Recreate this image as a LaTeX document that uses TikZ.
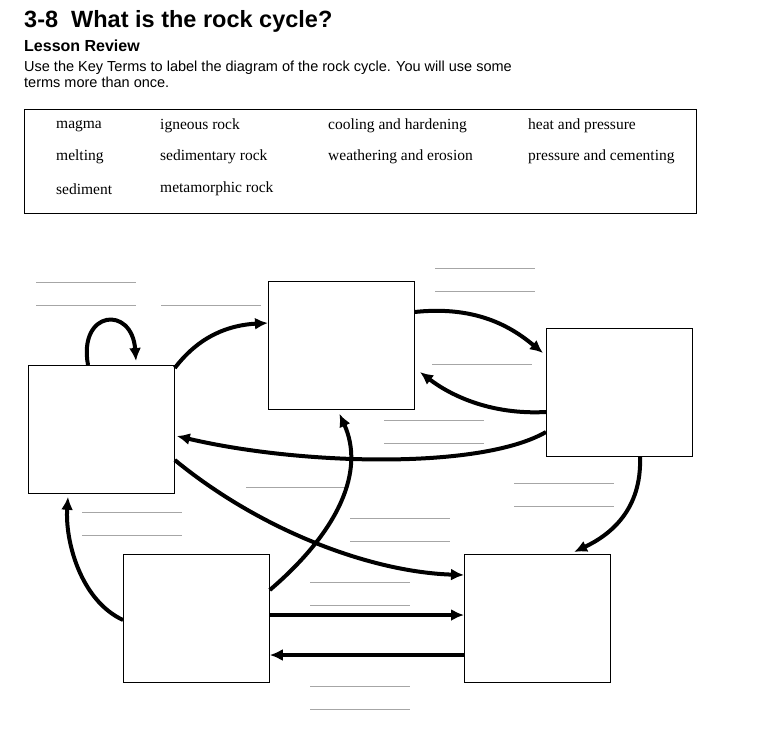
\documentclass[tikz,border=0pt]{standalone}
\usepackage{fontspec}
\setmainfont{Liberation Serif}
\setsansfont{Liberation Sans}
\usetikzlibrary{arrows.meta, positioning}

\begin{document}
\begin{tikzpicture}[x=1pt, y=-1pt,
    rockbox/.style={draw, line width=0.8pt, minimum width=146pt, minimum height=128pt, inner sep=0pt, anchor=north west},
    term/.style={anchor=west, font=\fontsize{15.5}{17}\selectfont, inner sep=0pt},
    blank/.style={draw=gray!70, line width=0.6pt},
    cycle/.style={line width=4pt, -{Latex[length=13pt,width=12pt]}}]

\useasboundingbox (0,0) rectangle (757,732);

% ------------------------
% Heading
% ------------------------
\node[anchor=west, inner sep=0pt, font=\sffamily\bfseries\fontsize{23.5}{27}\selectfont] (title) at (24,21) {3-8\ \ What is the rock cycle?};
\node[anchor=west, inner sep=0pt, font=\sffamily\bfseries\fontsize{16}{18}\selectfont] (review) at (24,46) {Lesson Review};
\node[anchor=north west, inner sep=0pt, align=left, font=\sffamily\fontsize{14.5}{16}\selectfont] (task) at (24,61)
    {Use the Key Terms to label the diagram of the rock cycle. You will use some\\terms more than once.};

% ------------------------
% Key terms
% ------------------------
\draw[line width=0.8pt] (24,109) rectangle (696,213);
\node[term] (t1) at (56,126) {magma};
\node[term] (t2) at (56,157) {melting};
\node[term] (t3) at (56,189) {sediment};
\node[term] (t4) at (160,126) {igneous rock};
\node[term] (t5) at (160,157) {sedimentary rock};
\node[term] (t6) at (160,189) {metamorphic rock};
\node[term] (t7) at (328,126) {cooling and hardening};
\node[term] (t8) at (328,157) {weathering and erosion};
\node[term] (t9) at (528,126) {heat and pressure};
\node[term] (t10) at (528,157) {pressure and cementing};

% ------------------------
% Boxes
% ------------------------
\node[rockbox] (leftbox) at (28,365) {};
\node[rockbox] (topbox) at (268,281) {};
\node[rockbox] (rightbox) at (546,328) {};
\node[rockbox] (lowleft) at (123,554) {};
\node[rockbox] (lowright) at (464,554) {};

% ------------------------
% Blank lines
% ------------------------
\foreach \x/\y in {36/282, 36/305, 161/305, 435/268, 435/291, 432/364, 384/420, 384/443,
                   246/487, 514/483, 514/506, 82/512, 82/535, 350/518, 350/541,
                   310/582, 310/605, 310/686, 310/709} {
    \draw[blank] (\x,\y) -- ++(100,0);
}

% ------------------------
% Arrows
% ------------------------
\draw[cycle] ([xshift=60pt]leftbox.north west) .. controls (78,310) and (132,305) .. ([xshift=108pt,yshift=4pt]leftbox.north west);
\draw[cycle] ([yshift=-3pt]leftbox.north east) .. controls (200,335) and (230,325) .. ([yshift=-42pt]topbox.north west);
\draw[cycle] ([yshift=-31pt]topbox.north east) .. controls (480,305) and (515,330) .. ([xshift=-3pt,yshift=-25pt]rightbox.north west);
\draw[cycle] ([yshift=-84pt]rightbox.north west) .. controls (490,415) and (450,395) .. (420,372);
\draw[cycle] ([yshift=-104pt]rightbox.north west) .. controls (480,470) and (300,465) .. ([xshift=2pt,yshift=-71pt]leftbox.north east);
\draw[cycle] ([yshift=-95pt]leftbox.north east) .. controls (260,530) and (370,572) .. ([yshift=-21pt]lowright.north west);
\draw[cycle] ([yshift=-36pt]lowleft.north east) .. controls (340,530) and (365,470) .. ([xshift=-2pt,yshift=-4pt]topbox.south);
\draw[cycle] ([xshift=94pt]rightbox.south west) .. controls (642,510) and (610,535) .. ([xshift=110pt,yshift=2pt]lowright.north west);
\draw[cycle] ([yshift=-66pt]lowleft.north west) .. controls (80,600) and (65,540) .. ([xshift=40pt,yshift=-3pt]leftbox.south west);
\draw[cycle] ([yshift=-61pt]lowleft.north east) -- ([yshift=-61pt]lowright.north west);
\draw[cycle] ([yshift=-101pt]lowright.north west) -- ([yshift=-101pt]lowleft.north east);

\end{tikzpicture}
\end{document}
